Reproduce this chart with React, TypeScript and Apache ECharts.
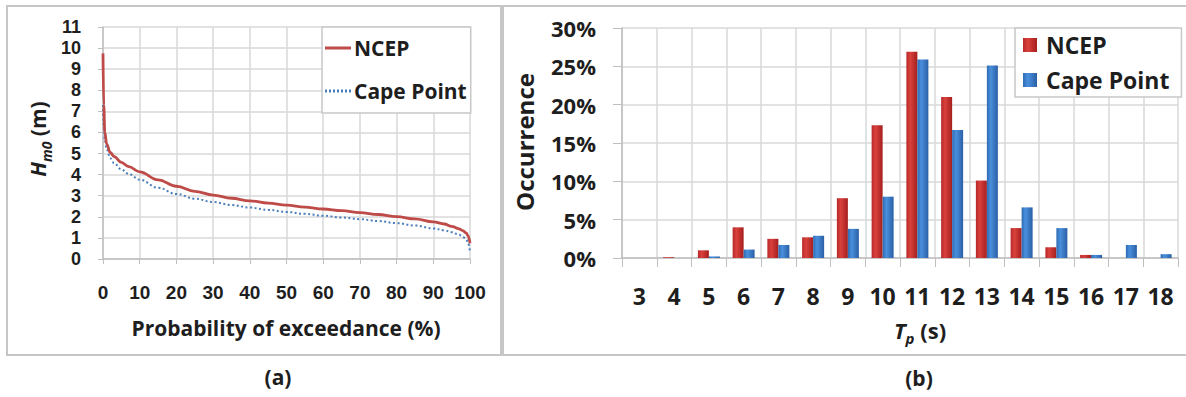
import React, { useEffect, useRef } from "react";
import * as echarts from "echarts";

const probability = [0, 0.2, 0.5, 1, 2, 3, 5, 7, 10, 15, 20, 25, 30, 35, 40, 45, 50, 55, 60, 65, 70, 75, 80, 85, 90, 93, 95, 97, 98, 99, 99.5, 100];
const ncepHm0 = [9.75, 7.3, 6.0, 5.45, 5.05, 4.86, 4.58, 4.38, 4.13, 3.75, 3.45, 3.21, 3.03, 2.88, 2.76, 2.65, 2.55, 2.46, 2.37, 2.29, 2.2, 2.11, 2.01, 1.9, 1.76, 1.66, 1.55, 1.43, 1.35, 1.23, 1.1, 0.75];
const capeHm0 = [7.3, 6.3, 5.65, 5.2, 4.78, 4.55, 4.25, 4.03, 3.76, 3.38, 3.08, 2.86, 2.7, 2.56, 2.44, 2.33, 2.23, 2.14, 2.05, 1.97, 1.89, 1.8, 1.7, 1.59, 1.45, 1.36, 1.27, 1.15, 1.06, 0.92, 0.75, 0.35];

const tpCategories = ["3", "4", "5", "6", "7", "8", "9", "10", "11", "12", "13", "14", "15", "16", "17", "18"];
const ncepTp = [0, 0.1, 1.0, 4.0, 2.5, 2.7, 7.8, 17.3, 26.9, 21.0, 10.1, 3.9, 1.4, 0.4, 0, 0];
const capeTp = [0, 0, 0.2, 1.1, 1.7, 2.9, 3.8, 8.0, 25.9, 16.7, 25.1, 6.6, 3.9, 0.4, 1.7, 0.5];

const hm0Ticks = { min: 0, max: 11, interval: 1 };
const probTicks = { min: 0, max: 100, interval: 10 };
const occTicks = { min: 0, max: 30, interval: 5 };

const FONT = "'Open Sans', sans-serif";
const TICK_FONT = "'Liberation Sans', Arial, sans-serif";
const TXT = "#1e1e1e";
const GRID = "#d9d9d9";
const AXIS = "#bfbfbf";

const SOLID_ICON = "path://M0,0H26V3H0Z";
const DOTTED_ICON =
  "path://M0,0h2v3h-2z M4,0h2v3h-2z M8,0h2v3h-2z M12,0h2v3h-2z M16,0h2v3h-2z M20,0h2v3h-2z M24,0h2v3h-2z";

export default function App() {
  const ref = useRef<HTMLDivElement>(null);
  useEffect(() => {
    if (!ref.current) return;
    const chart = echarts.init(ref.current, undefined, { renderer: "svg" });
    const redGrad = new echarts.graphic.LinearGradient(0, 0, 1, 0, [
      { offset: 0, color: "#b8282a" },
      { offset: 0.35, color: "#d9413c" },
      { offset: 1, color: "#a51f1e" },
    ]);
    const blueGrad = new echarts.graphic.LinearGradient(0, 0, 1, 0, [
      { offset: 0, color: "#2e6bb3" },
      { offset: 0.35, color: "#4a8fdc" },
      { offset: 1, color: "#2a5fa6" },
    ]);
    chart.setOption({
      animation: false,
      backgroundColor: "#ffffff",
      textStyle: { fontFamily: FONT },
      grid: [
        { left: 103, right: 716, top: 27, bottom: 138 },
        { left: 622, right: 8, top: 28, bottom: 139 },
      ],
      xAxis: [
        {
          type: "value",
          gridIndex: 0,
          ...probTicks,
          axisLine: { show: true, onZero: false, lineStyle: { color: AXIS, width: 1.5 } },
          axisTick: { show: true, length: 5, lineStyle: { color: AXIS } },
          splitLine: { show: true, lineStyle: { color: GRID, width: 1.5 } },
          axisLabel: { color: TXT, fontSize: 19, fontWeight: "bold", fontFamily: TICK_FONT, margin: 24 },
        },
        {
          type: "category",
          gridIndex: 1,
          data: tpCategories,
          axisLine: { show: true, lineStyle: { color: AXIS, width: 1.5 } },
          axisTick: { show: true, length: 9, lineStyle: { color: AXIS } },
          splitLine: { show: true, lineStyle: { color: GRID, width: 1.5 } },
          axisLabel: { color: TXT, fontSize: 23, fontWeight: "bold", fontFamily: FONT, margin: 26, interval: 0 },
        },
      ],
      yAxis: [
        {
          type: "value",
          gridIndex: 0,
          ...hm0Ticks,
          axisLine: { show: true, lineStyle: { color: AXIS, width: 1.5 } },
          axisTick: { show: true, length: 5, lineStyle: { color: AXIS } },
          splitLine: { show: true, lineStyle: { color: GRID, width: 1.5 } },
          axisLabel: { color: TXT, fontSize: 18, lineHeight: 18, fontWeight: "bold", fontFamily: TICK_FONT, margin: 22 },
        },
        {
          type: "value",
          gridIndex: 1,
          ...occTicks,
          axisLine: { show: true, lineStyle: { color: AXIS, width: 1.5 } },
          axisTick: { show: true, length: 9, lineStyle: { color: AXIS } },
          splitLine: { show: true, lineStyle: { color: GRID, width: 1.5 } },
          axisLabel: { color: TXT, fontSize: 22, fontWeight: "bold", fontFamily: FONT, margin: 26, formatter: "{value}%" },
        },
      ],
      legend: [
        {
          data: [
            { name: "NCEP", icon: SOLID_ICON },
            { name: "Cape Point", icon: DOTTED_ICON },
          ],
          orient: "vertical",
          left: 322,
          top: 27,
          itemWidth: 26,
          itemHeight: 3,
          itemGap: 21,
          padding: [10, 4, 11, 3],
          backgroundColor: "#ffffff",
          borderColor: "#c8c8c8",
          borderWidth: 1.5,
          borderRadius: 0,
          textStyle: { color: TXT, fontSize: 21, fontWeight: "bold", fontFamily: FONT, lineHeight: 22, padding: [0, 0, 0, -2] },
        },
        {
          data: ["NCEP ", "Cape Point "],
          orient: "vertical",
          left: 1015,
          top: 28,
          itemWidth: 14,
          itemHeight: 14,
          itemGap: 11,
          padding: [5, 6, 5, 8],
          backgroundColor: "#ffffff",
          borderColor: "#c8c8c8",
          borderWidth: 1.5,
          borderRadius: 0,
          icon: "rect",
          textStyle: { color: TXT, fontSize: 23, fontWeight: "bold", fontFamily: FONT, lineHeight: 24, padding: [0, 0, 0, 4] },
        },
      ],
      series: [
        {
          name: "NCEP",
          type: "line",
          xAxisIndex: 0,
          yAxisIndex: 0,
          data: probability.map((p, i) => [p, ncepHm0[i]]),
          smooth: 0.4,
          smoothMonotone: "x",
          symbol: "none",
          z: 4,
          itemStyle: { color: "#be4b48" },
          lineStyle: { color: "#be4b48", width: 2.8 },
        },
        {
          name: "Cape Point",
          type: "line",
          xAxisIndex: 0,
          yAxisIndex: 0,
          data: probability.map((p, i) => [p, capeHm0[i]]),
          smooth: 0.4,
          smoothMonotone: "x",
          symbol: "none",
          z: 3,
          itemStyle: { color: "#4a7ebb" },
          lineStyle: { color: "#4a7ebb", width: 2, type: [2, 2.5] },
        },
        {
          name: "NCEP ",
          type: "bar",
          xAxisIndex: 1,
          yAxisIndex: 1,
          data: ncepTp,
          barWidth: 11,
          barGap: "0%",
          itemStyle: { color: redGrad },
        },
        {
          name: "Cape Point ",
          type: "bar",
          xAxisIndex: 1,
          yAxisIndex: 1,
          data: capeTp,
          barWidth: 11,
          barGap: "0%",
          itemStyle: { color: blueGrad },
        },
      ],
      graphic: [
        { type: "rect", shape: { x: 7, y: 6, width: 494, height: 349 }, style: { fill: "none", stroke: "#c6c6c6", lineWidth: 2 }, silent: true, z: -1 },
        { type: "rect", shape: { x: 503, y: 6, width: 690, height: 349 }, style: { fill: "none", stroke: "#c6c6c6", lineWidth: 2 }, silent: true, z: -1 },
        {
          type: "text",
          x: 38,
          y: 139,
          rotation: Math.PI / 2,
          style: {
            text: "{i|H}{s|m0}{n| (m)}",
            align: "center",
            verticalAlign: "middle",
            fill: TXT,
            rich: {
              i: { fontSize: 21, fontStyle: "italic", fontWeight: "bold", fontFamily: FONT, lineHeight: 24, verticalAlign: "middle", fill: TXT },
              s: { fontSize: 14, fontStyle: "italic", fontWeight: "bold", fontFamily: FONT, lineHeight: 30, verticalAlign: "bottom", fill: TXT },
              n: { fontSize: 21, fontWeight: "bold", fontFamily: FONT, lineHeight: 24, verticalAlign: "middle", fill: TXT },
            },
          },
        },
        {
          type: "text",
          x: 286,
          y: 328,
          style: { text: "Probability of exceedance (%)", align: "center", verticalAlign: "middle", fill: TXT, fontSize: 21, fontWeight: "bold", fontFamily: FONT },
        },
        {
          type: "text",
          x: 278,
          y: 377,
          style: { text: "(a)", align: "center", verticalAlign: "middle", fill: TXT, fontSize: 21, fontWeight: "bold", fontFamily: FONT },
        },
        {
          type: "text",
          x: 524,
          y: 142,
          rotation: Math.PI / 2,
          style: { text: "Occurrence", align: "center", verticalAlign: "middle", fill: TXT, fontSize: 24, fontWeight: "bold", fontFamily: FONT },
        },
        {
          type: "text",
          x: 920,
          y: 330,
          style: {
            text: "{i|T}{s|p}{n| (s)}",
            align: "center",
            verticalAlign: "middle",
            fill: TXT,
            rich: {
              i: { fontSize: 22, fontStyle: "italic", fontWeight: "bold", fontFamily: FONT, lineHeight: 24, verticalAlign: "middle", fill: TXT },
              s: { fontSize: 15, fontStyle: "italic", fontWeight: "bold", fontFamily: FONT, lineHeight: 30, verticalAlign: "bottom", fill: TXT },
              n: { fontSize: 22, fontWeight: "bold", fontFamily: FONT, lineHeight: 24, verticalAlign: "middle", fill: TXT },
            },
          },
        },
        {
          type: "text",
          x: 919,
          y: 378,
          style: { text: "(b)", align: "center", verticalAlign: "middle", fill: TXT, fontSize: 21, fontWeight: "bold", fontFamily: FONT },
        },
      ],
    });
    return () => chart.dispose();
  }, []);
  return (
    <div style={{ position: "absolute", left: 0, top: 0, width: 1186, height: 397, background: "#fff" }}>
      <div ref={ref} style={{ width: 1186, height: 397 }} />
    </div>
  );
}
